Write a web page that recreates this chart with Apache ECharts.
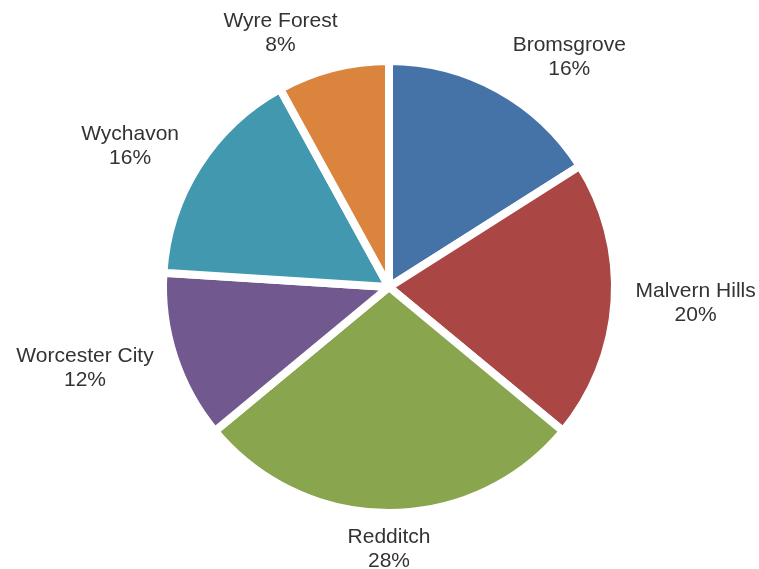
<!DOCTYPE html>
<html>
<head>
<meta charset="utf-8">
<script src="https://cdn.jsdelivr.net/npm/echarts@6/dist/echarts.min.js"></script>
<style>
  html, body { margin: 0; padding: 0; background: #ffffff; }
  #chart { width: 759px; height: 569px; }
</style>
</head>
<body>
<div id="chart"></div>
<script>
// Data
var categories = ['Bromsgrove', 'Malvern Hills', 'Redditch', 'Worcester City', 'Wychavon', 'Wyre Forest'];
var shares = [16, 20, 28, 12, 16, 8];
var colors = ['#4573A7', '#AA4643', '#89A54E', '#71588F', '#4198AF', '#DB843D'];

// Layout constants
var CX = 389, CY = 287, R = 226, LABEL_DIST = 238, LABEL_PAD = 9;

var total = shares.reduce(function (a, b) { return a + b; }, 0);
var midAngles = [];
(function () {
  var acc = 0;
  for (var i = 0; i < shares.length; i++) {
    midAngles.push((acc + shares[i] / 2) / total * 2 * Math.PI);
    acc += shares[i];
  }
})();

function clamp(v) { return Math.max(-1, Math.min(1, v)); }

var chart = echarts.init(document.getElementById('chart'), null, { renderer: 'canvas' });
chart.setOption({
  backgroundColor: '#ffffff',
  animation: false,
  series: [{
    type: 'pie',
    center: [CX, CY],
    radius: [0, R],
    startAngle: 90,
    clockwise: true,
    avoidLabelOverlap: false,
    data: categories.map(function (c, i) {
      return { name: c, value: shares[i], itemStyle: { color: colors[i] } };
    }),
    itemStyle: { borderColor: '#ffffff', borderWidth: 8 },
    label: {
      show: true,
      position: 'outside',
      formatter: function (p) { return '{t|' + p.name + '}\n{t|' + p.value + '%}'; },
      rich: {
        t: {
          align: 'center',
          fontFamily: 'Liberation Sans, Arial, sans-serif',
          fontSize: 21,
          lineHeight: 24,
          color: '#333333'
        }
      },
      fontFamily: 'Liberation Sans, Arial, sans-serif',
      fontSize: 21,
      lineHeight: 24,
      color: '#333333'
    },
    labelLine: { show: false },
    emphasis: { disabled: true },
    labelLayout: function (params) {
      var a = midAngles[params.dataIndex];
      var ux = Math.sin(a), uy = -Math.cos(a);
      var w = params.labelRect.width, h = params.labelRect.height;
      var x = CX + ux * LABEL_DIST + clamp(ux * 3) * (w / 2 + LABEL_PAD);
      var y = CY + uy * LABEL_DIST + uy * h / 2;
      return { x: x, y: y, align: 'center', verticalAlign: 'middle' };
    }
  }]
});
</script>
</body>
</html>
